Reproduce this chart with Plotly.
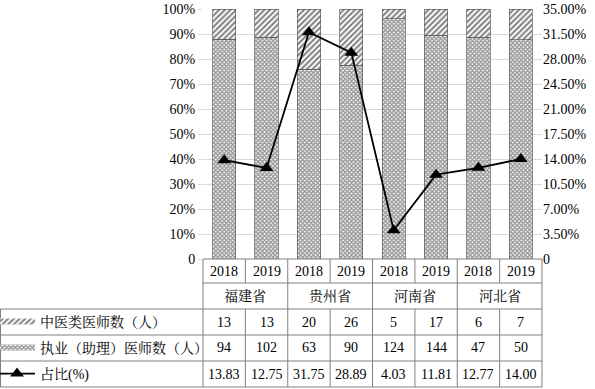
import plotly.graph_objects as go

provinces = ["福建省", "贵州省", "河南省", "河北省"]
years = ["2018", "2019"]
tcm_doctors = [13, 13, 20, 26, 5, 17, 6, 7]
licensed_doctors = [94, 102, 63, 90, 124, 144, 47, 50]
ratio_pct = [13.83, 12.75, 31.75, 28.89, 4.03, 11.81, 12.77, 14.00]
series_names = ["中医类医师数（人）", "执业（助理）医师数（人）", "占比(%)"]
left_ticks = [0, 10, 20, 30, 40, 50, 60, 70, 80, 90, 100]
left_labels = ["0"] + [f"{v}%" for v in left_ticks[1:]]
right_ticks = [0, 3.5, 7, 10.5, 14, 17.5, 21, 24.5, 28, 31.5, 35]
right_labels = ["0"] + [f"{v:.2f}%" for v in right_ticks[1:]]

FONT = "Liberation Serif, Times New Roman, Noto Serif CJK SC, Noto Sans CJK SC, serif"
W, H = 595, 389
L, R, T, B = 203, 542, 9, 259
n = len(tcm_doctors)
xs = list(range(n))

def py(p):  # pixel y -> paper y
    return (B - p) / (B - T)

def px(p):  # pixel x -> paper x
    return (p - L) / (R - L)

hatch = dict(shape="/", size=4, solidity=0.5, fgcolor="#000000", bgcolor="#ffffff")
dots = dict(shape="x", size=3, solidity=0.7, fgcolor="#333333", bgcolor="#ffffff")

fig = go.Figure()
fig.add_trace(go.Bar(x=xs, y=licensed_doctors, width=0.55, showlegend=False,
                     marker=dict(color="#ffffff", pattern=dots, line=dict(color="#5a5a5a", width=0.7)),
                     hoverinfo="skip"))
fig.add_trace(go.Bar(x=xs, y=tcm_doctors, width=0.55, showlegend=False,
                     marker=dict(color="#ffffff", pattern=hatch, line=dict(color="#5a5a5a", width=0.7)),
                     hoverinfo="skip"))
fig.add_trace(go.Scatter(x=xs, y=ratio_pct, yaxis="y2", mode="lines+markers", showlegend=False,
                         line=dict(color="#000000", width=1.8),
                         marker=dict(symbol="triangle-up", size=12, color="#000000"),
                         hoverinfo="skip"))

# legend entries placed inside the table's label column
fig.add_trace(go.Scatter(x=[None], y=[None], mode="none", fill="toself", name=series_names[0],
                         fillcolor="#ffffff", fillpattern=hatch, legend="legend"))
fig.add_trace(go.Scatter(x=[None], y=[None], mode="none", fill="toself", name=series_names[1],
                         fillcolor="#ffffff", fillpattern=dots, legend="legend2"))
fig.add_trace(go.Scatter(x=[None], y=[None], mode="lines+markers", name=series_names[2],
                         line=dict(color="#000000", width=1.8),
                         marker=dict(symbol="triangle-up", size=12, color="#000000"),
                         legend="legend3"))

row_edges = [259, 283, 309, 335, 361, 387]
legend_common = dict(xanchor="left", yanchor="middle", bgcolor="rgba(0,0,0,0)",
                     font=dict(family=FONT, size=14, color="#000000"), borderwidth=0,
                     itemwidth=36)
LX = -6
fig.update_layout(
    legend=dict(x=px(LX), y=py((row_edges[2] + row_edges[3]) / 2), **legend_common),
    legend2=dict(x=px(LX), y=py((row_edges[3] + row_edges[4]) / 2), **legend_common),
    legend3=dict(x=px(LX), y=py((row_edges[4] + row_edges[5]) / 2), **legend_common),
)

# table lines
lc = dict(color="#808080", width=1)
shapes = []
def hline(x0p, x1p, yp):
    shapes.append(dict(type="line", xref="paper", yref="paper", x0=px(x0p), x1=px(x1p),
                       y0=py(yp), y1=py(yp), line=lc, layer="above"))
def vline(xval, xref, y0p, y1p):
    shapes.append(dict(type="line", xref=xref, yref="paper", x0=xval, x1=xval,
                       y0=py(y0p), y1=py(y1p), line=lc, layer="above"))

hline(L, R, row_edges[0])
hline(L, R, row_edges[1])
for e in row_edges[2:]:
    hline(0.5, R, e)
vline(px(0.5), "paper", row_edges[2], row_edges[5])
vline(0, "paper", row_edges[0], row_edges[5])
vline(1, "paper", row_edges[0], row_edges[5])
for i in range(n - 1):
    b = i + 0.5
    if (i + 1) % len(years) == 0:
        vline(b, "x", row_edges[0], row_edges[5])
    else:
        vline(b, "x", row_edges[0], row_edges[1])
        vline(b, "x", row_edges[2], row_edges[5])

annotations = []
tf = dict(family=FONT, size=14, color="#000000")
def cell(xval, xref, yc, text):
    annotations.append(dict(x=xval, y=py(yc), xref=xref, yref="paper", text=text,
                            showarrow=False, font=tf, xanchor="center", yanchor="middle"))

for i in range(n):
    cell(i, "x", (row_edges[0] + row_edges[1]) / 2, years[i % len(years)])
    cell(i, "x", (row_edges[2] + row_edges[3]) / 2, str(tcm_doctors[i]))
    cell(i, "x", (row_edges[3] + row_edges[4]) / 2, str(licensed_doctors[i]))
    cell(i, "x", (row_edges[4] + row_edges[5]) / 2, f"{ratio_pct[i]:.2f}")
for j, p in enumerate(provinces):
    cell(j * len(years) + (len(years) - 1) / 2, "x", (row_edges[1] + row_edges[2]) / 2, p)

fig.update_layout(
    width=W, height=H,
    margin=dict(l=L, r=W - R, t=T, b=H - B, pad=0, autoexpand=False),
    paper_bgcolor="#ffffff", plot_bgcolor="#ffffff",
    barmode="stack", barnorm="percent",
    font=dict(family=FONT, size=14, color="#000000"),
    xaxis=dict(range=[-0.5, n - 0.5], showticklabels=False, showgrid=False, zeroline=False,
               ticks="", showline=False, fixedrange=True),
    yaxis=dict(range=[0, 100], tickvals=left_ticks, ticktext=left_labels, showgrid=True,
               gridcolor="#d9d9d9", gridwidth=1, zeroline=False, ticks="outside", ticklen=4,
               tickcolor="#d9d9d9", showline=False, tickfont=tf, fixedrange=True),
    yaxis2=dict(range=[0, 35], tickvals=right_ticks, ticktext=right_labels, overlaying="y",
                side="right", showgrid=False, zeroline=False, ticks="", showline=False,
                tickfont=tf, fixedrange=True),
    shapes=shapes, annotations=annotations,
)

fig.write_html("out.html", config={"displayModeBar": False, "staticPlot": True},
               post_script="document.body.style.margin='0';document.body.style.overflow='hidden';")
